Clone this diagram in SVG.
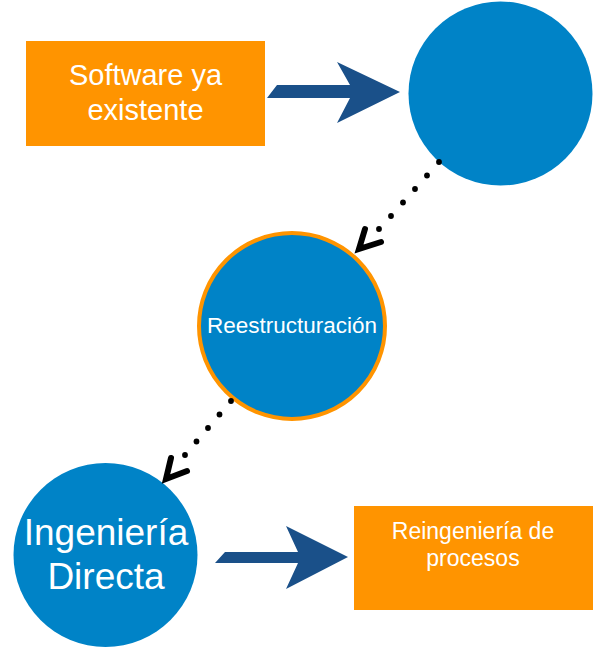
<svg xmlns="http://www.w3.org/2000/svg" width="593" height="647" viewBox="0 0 593 647">
<style>
.box{fill:#FF9400}
.circ{fill:#0083C7}
.t{fill:#fff;font-family:"Liberation Sans",Arial,sans-serif;text-anchor:middle}
.bigarrow{fill:#1A5089}
.dot{fill:#000}
.head{fill:none;stroke:#000;stroke-width:6;stroke-linecap:round;stroke-linejoin:miter}
</style>
<rect width="593" height="647" fill="#fff"/>
<g id="software">
<rect class="box" x="26" y="41" width="239" height="105"/>
<text class="t" x="145.5" y="85" font-size="29">Software ya</text>
<text class="t" x="145.5" y="120" font-size="29">existente</text>
</g>
<g id="circulo1">
<circle class="circ" cx="500.5" cy="93.5" r="92"/>
</g>
<g id="reestructuracion">
<circle class="circ" cx="292" cy="326" r="93" stroke="#FF9400" stroke-width="4"/>
<text class="t" x="292" y="333" font-size="22.5">Reestructuración</text>
</g>
<g id="ingenieria">
<circle class="circ" cx="105.5" cy="555" r="92"/>
<text class="t" x="106" y="545" font-size="37">Ingeniería</text>
<text class="t" x="106" y="589" font-size="37">Directa</text>
</g>
<g id="reingenieria">
<rect class="box" x="354" y="506" width="239" height="104"/>
<text class="t" x="473" y="539" font-size="23">Reingeniería de</text>
<text class="t" x="473" y="566" font-size="23">procesos</text>
</g>
<g id="connectors">
<polygon class="bigarrow" points="277,85 350,85 337,62 400,92 337,123 350,98 267,98"/>
<polygon class="bigarrow" points="225,552 298,552 286,526 348,557 286,589 298,563 215,563"/>
<g>
<circle class="dot" cx="439" cy="162" r="2.9"/>
<circle class="dot" cx="427" cy="175.5" r="2.9"/>
<circle class="dot" cx="415" cy="189" r="2.9"/>
<circle class="dot" cx="403" cy="202.5" r="2.9"/>
<circle class="dot" cx="391" cy="216" r="2.9"/>
<circle class="dot" cx="379" cy="229" r="2.9"/>
<polyline class="head" points="365,229 359,249 381,242"/>
</g>
<g>
<circle class="dot" cx="231" cy="401" r="2.9"/>
<circle class="dot" cx="219.5" cy="414.5" r="2.9"/>
<circle class="dot" cx="208" cy="428" r="2.9"/>
<circle class="dot" cx="196.5" cy="441.5" r="2.9"/>
<circle class="dot" cx="185" cy="455" r="2.9"/>
<polyline class="head" points="171,458 166,479 187,471"/>
</g>
</g>
</svg>
